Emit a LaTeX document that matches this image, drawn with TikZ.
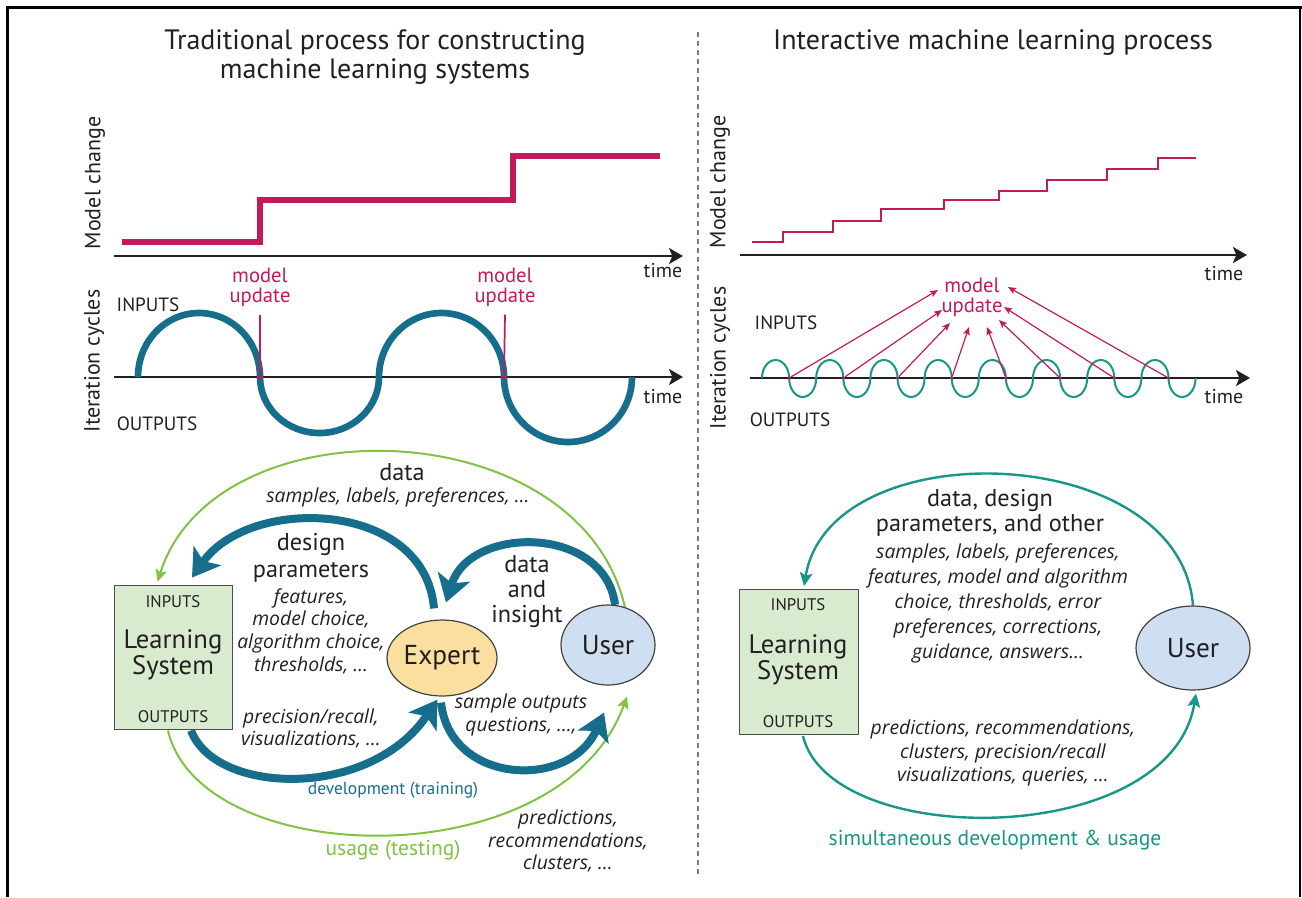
\documentclass[tikz,border=0pt]{standalone}
\usepackage{fontspec}
\setmainfont{PT Sans}
\newfontfamily\notefont{Open Sans}
\usetikzlibrary{arrows.meta,shapes.geometric}
\pgfdeclarelayer{back}
\pgfsetlayers{back,main}

\definecolor{ink}{RGB}{35,31,32}
\definecolor{mag}{RGB}{193,27,90}
\definecolor{petrol}{RGB}{22,110,140}
\definecolor{tealc}{RGB}{24,150,138}
\definecolor{grn}{RGB}{128,194,66}
\definecolor{boxfill}{RGB}{216,235,207}
\definecolor{expfill}{RGB}{250,223,160}
\definecolor{usrfill}{RGB}{206,223,241}
\definecolor{divider}{RGB}{125,125,125}

\begin{document}
\begin{tikzpicture}[x=0.75pt,y=-0.75pt,
  every node/.style={inner sep=0pt,text=ink},
  ttl/.style={font=\fontsize{21}{24}\selectfont,anchor=base},
  axl/.style={font=\fontsize{16.5}{18}\selectfont,rotate=90},
  timelab/.style={font=\fontsize{15}{17}\selectfont},
  upd/.style={font=\fontsize{15.5}{15}\selectfont,text=mag,align=center},
  io/.style={font=\fontsize{14.4}{16}\selectfont},
  bio/.style={font=\fontsize{12.6}{14}\selectfont},
  mid/.style={font=\fontsize{18.2}{20}\selectfont,align=center},
  note/.style={font=\notefont\itshape\fontsize{14.5}{17}\selectfont,align=center},
  big/.style={font=\fontsize{20}{19.5}\selectfont,align=center},
  lsbox/.style={draw=ink!80,line width=0.9pt,fill=boxfill,minimum width=89pt,minimum height=108.5pt},
  blob/.style={ellipse,draw=ink!85,line width=0.9pt,font=\fontsize{20.5}{22}\selectfont},
  dotm/.style={circle,fill=mag,minimum size=3.8pt},
  axis/.style={line width=1.8pt,draw=ink,-{Stealth[length=10.5pt,width=12pt,inset=2.5pt]}},
  stepthick/.style={line width=4.5pt,draw=mag},
  stepthin/.style={line width=1.5pt,draw=mag},
  wavethick/.style={line width=5pt,draw=petrol},
  wavethin/.style={line width=1.5pt,draw=tealc},
  bigarrow/.style={line width=6pt,draw=petrol,-{Stealth[length=20pt,width=25pt,inset=5pt]}},
  grnarrow/.style={line width=1.5pt,draw=grn,-{Stealth[length=9pt,width=8.5pt,inset=2pt]}},
  tealarrow/.style={line width=1.8pt,draw=tealc,-{Stealth[length=10pt,width=9.5pt,inset=2pt]}},
  magarrow/.style={line width=0.9pt,draw=mag,-{Stealth[length=6pt,width=5pt,inset=1.2pt]}},
  tick/.style={line width=1.3pt,draw=mag}
]
\useasboundingbox (0,0) rectangle (1302,897);

% frame and divider
\draw[line width=2.6pt,black] (7.75,897) -- (7.75,7.75) -- (1302,7.75);
\draw[line width=1.5pt,black] (1300,7.75) -- (1300,897);
\draw[line width=2pt,draw=divider,dash pattern=on 3.75pt off 3pt] (698,32) -- (698,876);

% ---------------- titles ----------------
\node[ttl] (tL1) at (375,49) {Traditional process for constructing};
\node[ttl] (tL2) at (375,78) {machine learning systems};
\node[ttl] (tR) at (993,49) {Interactive machine learning process};

% ---------------- left: model change ----------------
\node[axl] (mcL) at (95,183) {Model change};
\draw[stepthick] (122,242) -- (260,242) -- (260,200) -- (513,200) -- (513,156) -- (660,156);
\draw[axis] (114,256) -- (683,256);
\node[timelab] (tmL1) at (663,271) {time};

% ---------------- left: iteration cycles ----------------
\node[axl] (icL) at (94,361) {Iteration cycles};
\node[io] (inL) at (148,305) {INPUTS};
\node[io] (outL) at (157,424) {OUTPUTS};
\draw[axis] (114,377) -- (683,377);
\draw[wavethick] (138,377) foreach \a/\w/\h in {138/122/64, 260/119/-56, 379/125/64, 504/128/-65} {
  .. controls (\a,{377-0.5523*(\h)}) and ({\a+0.5*\w*(1-0.5523)},{377-(\h)}) .. ({\a+0.5*\w},{377-(\h)})
  .. controls ({\a+0.5*\w*(1+0.5523)},{377-(\h)}) and ({\a+\w},{377-0.5523*(\h)}) .. ({\a+\w},377) };
\node[timelab] (tmL2) at (663,397) {time};
\node[upd] (mu1) at (260,287) {model\\update};
\node[upd] (mu2) at (505,287) {model\\update};
\node[dotm] (d1) at (260,377) {};
\node[dotm] (d2) at (504,377) {};
\draw[tick] ([yshift=-6pt]mu1.south) -- (d1);
\draw[tick] ([yshift=-6pt]mu2.south) -- (d2);

% ---------------- right: model change ----------------
\node[axl] (mcR) at (720,182) {Model change};
\draw[stepthin] (752,242) -- (783,242) -- (783,232) -- (833,232) -- (833,221) -- (881,221)
  -- (881,209) -- (944,209) -- (944,200) -- (999,200) -- (999,191) -- (1047,191)
  -- (1047,180) -- (1107,180) -- (1107,169) -- (1158,169) -- (1158,158) -- (1196,158);
\draw[axis] (740,255) -- (1247,255);
\node[timelab] (tmR1) at (1224,274) {time};

% ---------------- right: iteration cycles ----------------
\node[axl] (icR) at (720,358) {Iteration cycles};
\node[io] (inR) at (786,323) {INPUTS};
\node[io] (outR) at (790,420) {OUTPUTS};
\draw[axis] (750,378) -- (1250,378);
\draw[wavethin] (762,378) foreach \a/\h in {762/18, 789.1/-19, 816.2/18, 843.3/-19, 870.4/18, 897.5/-19,
    924.6/18, 951.7/-19, 978.8/18, 1005.9/-19, 1033/18, 1060.1/-19, 1087.2/18, 1114.3/-19,
    1141.4/18, 1168.5/-19} {
  .. controls (\a,{378-0.5523*(\h)}) and ({\a+13.55*(1-0.5523)},{378-(\h)}) .. ({\a+13.55},{378-(\h)})
  .. controls ({\a+13.55*(1+0.5523)},{378-(\h)}) and ({\a+27.1},{378-0.5523*(\h)}) .. ({\a+27.1},378) };
\node[timelab] (tmR2) at (1224,397) {time};
\node[upd] (muR) at (972,297) {model\\update};
\foreach \i/\x/\tx/\ty in {1/789.1/938/290, 2/843.3/942/310, 3/897.5/950/323, 4/951.7/969/327,
    5/1005.9/987/327, 6/1060.1/999/320, 7/1114.3/1004/307, 8/1168.5/1008/287} {
  \node[dotm,minimum size=2.6pt] (r\i) at (\x,378) {};
  \coordinate (t\i) at (\tx,\ty);
  \draw[magarrow] (r\i) -- (t\i);
}

% ---------------- left: traditional loop ----------------
\node[lsbox] (lsL) at (173.5,657.5) {};
\node[bio] (lsLin) at (173,602) {INPUTS};
\node[big] (lsLtx) at (173,655) {Learning\\System};
\node[bio] (lsLout) at (173,717) {OUTPUTS};
\node[blob,fill=expfill,minimum width=82.5pt,minimum height=57pt] (expert) at (442,658) {Expert};
\node[blob,fill=usrfill,minimum width=70.5pt,minimum height=60pt] (userL) at (608,645) {User};

\begin{pgfonlayer}{back}
\draw[grnarrow] (userL.66) .. controls (580,410) and (215,400) .. ([shift={(44,-3)}]lsL.north west);
\draw[grnarrow] ([shift={(-5.5,0)}]lsL.south) .. controls (200,870) and (560,880) .. ([shift={(19,11)}]userL.south);
\draw[bigarrow] ([shift={(-8,-11)}]expert.north) .. controls (425,500) and (250,495) .. ([shift={(18.5,-7)}]lsL.north);
\draw[bigarrow] (userL.80) .. controls (605,525) and (470,525) .. ([shift={(4,-17)}]expert.north);
\draw[bigarrow] ([shift={(17.5,0)}]lsL.south) .. controls (215,795) and (370,800) .. ([shift={(-4.5,3)}]expert.south);
\draw[bigarrow] ([shift={(-1,6)}]expert.south) .. controls (450,785) and (570,790) .. ([shift={(-4,27)}]userL.south);
\end{pgfonlayer}

\node[mid] (dataL) at (402,472) {data};
\node[note] (sampL) at (398,497) {samples, labels, preferences, …};
\node[mid] (dpar) at (311,558) {design\\parameters};
\node[note] (dparN) at (311,631) {features,\\model choice,\\algorithm choice,\\thresholds, …};
\node[mid,font=\fontsize{18.2}{18.75}\selectfont] (dai) at (527,592) {data\\and\\insight};
\node[note] (prL) at (311,728.5) {precision/recall,\\visualizations, …};
\node[note] (soL) at (521,715) {sample outputs\\questions, …,};
\node[font=\fontsize{13.1}{15}\selectfont,text=petrol] (devL) at (393,790) {development (training)};
\node[font=\fontsize{16.1}{18}\selectfont,text=grn] (useL) at (393,850) {usage (testing)};
\node[note] (pcL) at (568,841) {predictions,\\recommendations,\\clusters, …};

% ---------------- right: interactive loop ----------------
\node[lsbox] (lsR) at (799,662) {};
\node[bio] (lsRin) at (798,605) {INPUTS};
\node[big] (lsRtx) at (798,659.5) {Learning\\System};
\node[bio] (lsRout) at (798,722) {OUTPUTS};
\node[blob,fill=usrfill,minimum width=85.5pt,minimum height=63pt] (userR) at (1193,648) {User};

\begin{pgfonlayer}{back}
\draw[tealarrow] (userR.north) .. controls (1180,440) and (830,430) .. ([shift={(5,-3)}]lsR.north);
\draw[tealarrow] ([shift={(4,1)}]lsR.south) .. controls (830,850) and (1170,850) .. ([shift={(3,3)}]userR.south);
\end{pgfonlayer}

\node[mid,font=\fontsize{18.2}{18.75}\selectfont] (ddR) at (990,512.5) {data, design\\parameters, and other};
\node[note,font=\notefont\itshape\fontsize{14.5}{18.75}\selectfont] (ddN) at (998,603) {samples, labels, preferences,\\features, model and algorithm\\choice, thresholds, error\\preferences, corrections,\\guidance, answers…};
\node[note,font=\notefont\itshape\fontsize{14.5}{17.6}\selectfont] (pcR) at (1003,753) {predictions, recommendations,\\clusters, precision/recall\\visualizations, queries, …};
\node[font=\fontsize{16.2}{18}\selectfont,text=tealc] (simR) at (995,840) {simultaneous development \& usage};
\end{tikzpicture}
\end{document}
